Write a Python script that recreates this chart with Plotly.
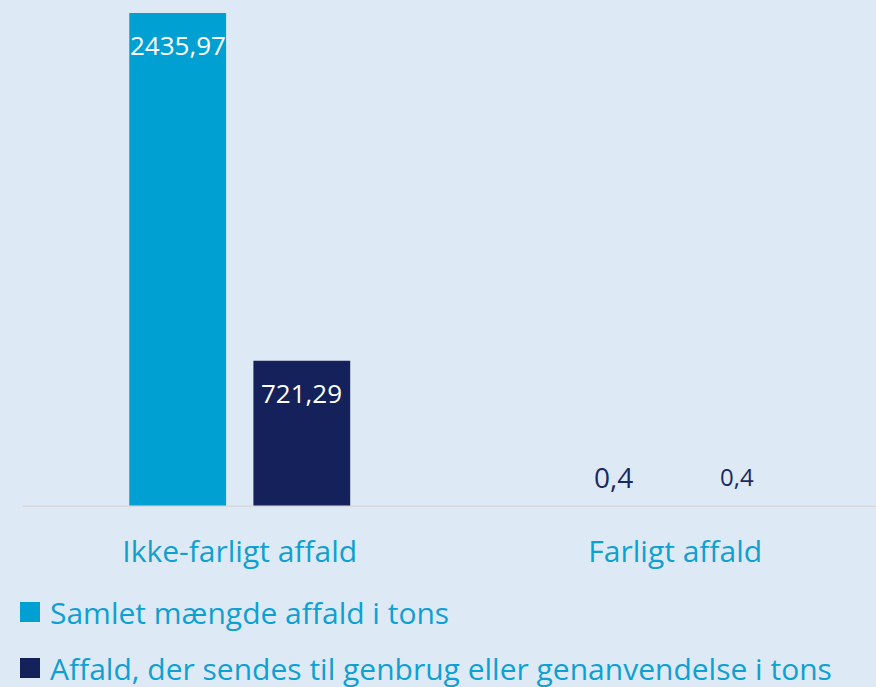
import plotly.graph_objects as go

categories = ["Ikke-farligt affald", "Farligt affald"]
series_names = ["Samlet mængde affald i tons",
                "Affald, der sendes til genbrug eller genanvendelse i tons"]
total_tons = [2435.97, 0.4]
recycled_tons = [721.29, 0.4]
value_labels_total = ["2435,97", "0,4"]
value_labels_recycled = ["721,29", "0,4"]

colors = ["#00A0D2", "#15215A"]
bg = "#DDEAF6"
cat_color = "#0FA0D2"
font_family = "Open Sans, Noto Sans, sans-serif"

fig = go.Figure()
series = [(series_names[0], total_tons, value_labels_total, colors[0]),
          (series_names[1], recycled_tons, value_labels_recycled, colors[1])]

for name, vals, labels, col in series:
    fig.add_trace(go.Bar(x=categories, y=vals, name=name, marker_color=col,
                         marker_line_width=0, showlegend=False, hoverinfo="skip"))

for i, (name, vals, labels, col) in enumerate(series):
    fig.add_trace(go.Scatter(x=[categories[0]], y=[None], mode="markers", name=name,
                             marker=dict(symbol="square", size=16, color=col,
                                         line=dict(color=col, width=4)),
                             legendgroup=f"g{i}", hoverinfo="skip"))

max_v = max(total_tons)
annotations = []
shifts = [-62, 62]
outside_sizes = [28, 24]
for si, (name, vals, labels, col) in enumerate(series):
    for ci, cat in enumerate(categories):
        v = vals[ci]
        inside = v > 0.1 * max_v
        annotations.append(dict(
            x=cat, y=v, xref="x", yref="y", text=labels[ci], showarrow=False,
            xshift=shifts[si], yshift=-32 if inside else 30,
            yanchor="middle", xanchor="center",
            font=dict(family=font_family, size=26 if inside else outside_sizes[si],
                      color="white" if inside else "#1B2A5E"),
        ))

fig.update_layout(
    width=876, height=687,
    paper_bgcolor=bg, plot_bgcolor=bg,
    margin=dict(l=22, r=0, t=0, b=180, autoexpand=False),
    barmode="group", bargap=0.43, bargroupgap=0.22,
    annotations=annotations,
    shapes=[dict(type="line", xref="paper", yref="y", x0=0, x1=1, y0=0, y1=0,
                 line=dict(color="#D6D9DE", width=3), layer="above")],
    font=dict(family=font_family),
    showlegend=True,
    legend=dict(orientation="v", xref="container", yref="container",
                x=10 / 876, y=1 - 586 / 687, xanchor="left", yanchor="top",
                font=dict(size=30, color=cat_color, family=font_family),
                bgcolor="rgba(0,0,0,0)", tracegroupgap=14, itemwidth=30),
    xaxis=dict(type="category", range=[-0.5, 1.461], showgrid=False, zeroline=False,
               showline=False,
               ticks="outside", ticklen=18, tickcolor="rgba(0,0,0,0)",
               tickfont=dict(size=30, color=cat_color, family=font_family)),
    yaxis=dict(type="linear", range=[0, 2500], visible=False, showgrid=False,
               zeroline=False),
)

fig.write_html("out.html", config={"displayModeBar": False},
               post_script="document.body.style.margin='0';document.body.style.overflow='hidden';")
